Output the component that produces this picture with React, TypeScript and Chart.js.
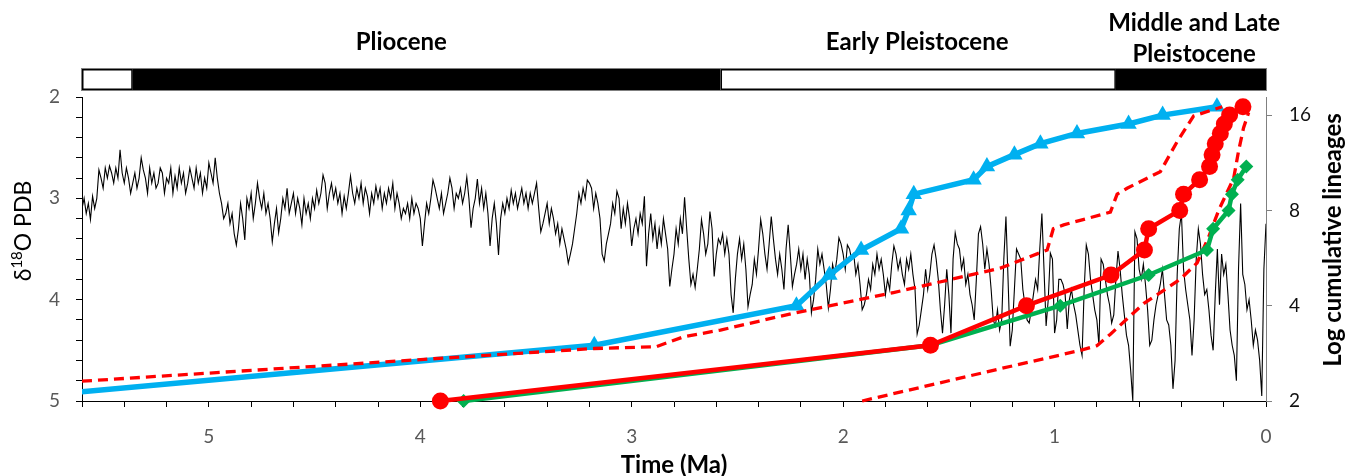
import React, { useEffect, useRef } from "react";
import { Chart, registerables } from "chart.js";

Chart.register(...registerables);

// ---------------- DATA ----------------
// Benthic δ18O stack (‰ PDB), sampled every 0.01 Ma starting at 0 Ma
const d18OStartMa = 0;
const d18OStepMa = 0.01;
const d18O: number[] = [
  // 0.00 - 0.99
  3.25, 3.70, 4.95, 4.60, 4.40, 4.30, 4.45, 4.20, 4.00, 4.10,
  3.85, 3.75, 3.05, 3.70, 4.80, 4.55, 4.45, 4.30, 3.95, 3.65,
  3.75, 3.55, 4.05, 3.50, 3.95, 4.50, 4.35, 4.10, 3.90, 3.95,
  3.75, 3.45, 3.30, 3.60, 4.20, 4.55, 4.20, 4.05, 3.90, 3.70,
  3.15, 3.30, 3.75, 4.60, 4.88, 4.45, 4.25, 4.20, 3.95, 3.70,
  3.85, 3.95, 4.05, 4.20, 4.40, 4.45, 4.10, 3.85, 3.65, 3.80,
  3.70, 3.40, 3.33, 5.00, 4.70, 4.45, 4.35, 4.15, 3.95, 3.70,
  3.52, 3.80, 4.15, 4.23, 4.05, 3.95, 3.80, 3.65, 3.60, 4.45,
  4.20, 4.10, 3.95, 3.80, 3.55, 3.46, 3.90, 4.55, 4.45, 4.30,
  4.15, 4.05, 3.90, 4.00, 4.29, 3.95, 3.85, 3.80, 3.80, 4.20,
  // 1.00 - 1.99
  4.33, 3.60, 3.54, 4.00, 4.26, 3.70, 3.15, 3.50, 3.90, 3.80,
  3.95, 4.10, 4.23, 4.20, 4.05, 3.90, 3.60, 3.55, 3.50, 3.90,
  4.30, 4.46, 3.80, 3.18, 3.60, 4.20, 4.30, 4.10, 4.26, 4.20,
  3.90, 3.65, 3.50, 3.70, 3.45, 3.28, 3.35, 3.80, 4.20, 4.05,
  3.95, 3.75, 3.85, 3.60, 3.70, 3.50, 3.45, 3.34, 3.60, 4.33,
  3.95, 3.70, 4.05, 4.33, 4.10, 3.80, 3.60, 3.46, 3.55, 3.75,
  3.90, 3.70, 3.95, 4.10, 4.25, 4.34, 3.90, 3.75, 3.55, 3.70,
  3.60, 3.85, 3.75, 3.60, 3.70, 3.55, 3.47, 3.65, 3.90, 3.80,
  3.95, 3.75, 3.60, 3.70, 3.55, 3.75, 3.65, 3.90, 3.80, 3.95,
  4.05, 4.10, 3.85, 3.65, 3.75, 3.55, 3.60, 3.50, 3.46, 3.70,
  // 2.00 - 2.99
  3.55, 3.45, 3.39, 3.60, 3.75, 3.65, 3.90, 4.08, 3.85, 3.70,
  3.55, 3.65, 3.50, 3.80, 4.00, 4.13, 3.75, 3.60, 3.80, 3.55,
  3.70, 3.50, 3.65, 3.75, 3.87, 3.55, 3.26, 3.50, 3.90, 3.70,
  3.55, 3.75, 3.60, 3.40, 3.18, 3.45, 3.70, 3.55, 3.35, 3.21,
  3.50, 3.75, 3.60, 3.85, 3.95, 4.07, 3.70, 3.45, 3.60, 3.40,
  3.55, 3.80, 4.13, 3.95, 3.55, 3.40, 3.55, 3.35, 3.45, 3.40,
  3.55, 3.77, 3.30, 3.13, 3.45, 3.55, 3.35, 3.21, 3.50, 3.70,
  3.88, 3.75, 3.85, 3.60, 3.30, 2.99, 3.35, 3.20, 3.45, 3.30,
  3.55, 3.70, 3.87, 3.50, 3.35, 3.20, 3.45, 3.30, 3.50, 3.25,
  3.40, 3.15, 3.35, 3.67, 2.98, 3.25, 3.15, 3.35, 3.20, 3.30,
  // 3.00 - 3.99
  3.47, 3.20, 3.05, 3.25, 3.10, 3.30, 3.00, 2.93, 3.15, 3.05,
  3.25, 3.35, 3.45, 3.62, 3.55, 3.20, 3.05, 2.95, 3.10, 2.90,
  2.85, 2.82, 3.00, 2.90, 3.05, 2.95, 3.15, 3.30, 3.45, 3.55,
  3.64, 3.50, 3.40, 3.30, 3.45, 3.25, 3.35, 3.20, 3.10, 3.25,
  3.05, 3.15, 3.25, 3.33, 3.10, 2.85, 2.95, 3.05, 2.95, 3.10,
  2.95, 3.05, 2.90, 3.00, 3.10, 2.95, 3.05, 2.92, 3.10, 3.00,
  3.15, 3.05, 3.20, 3.56, 3.25, 3.05, 3.20, 3.47, 3.15, 2.95,
  3.10, 2.90, 3.05, 2.81, 3.00, 3.10, 3.29, 3.00, 2.79, 2.95,
  3.05, 2.90, 3.00, 2.95, 3.10, 2.90, 2.80, 2.95, 3.05, 3.15,
  2.95, 3.10, 3.00, 2.90, 2.82, 3.00, 3.15, 3.05, 3.25, 3.47,
  // 4.00 - 4.99
  3.20, 3.10, 3.05, 3.15, 3.00, 3.20, 3.05, 3.15, 3.10, 3.20,
  3.05, 2.95, 3.10, 2.85, 3.00, 2.90, 3.05, 2.95, 3.10, 2.90,
  3.00, 2.88, 3.05, 2.95, 3.15, 2.98, 2.90, 3.05, 2.85, 3.00,
  2.90, 3.05, 2.95, 2.78, 2.95, 3.10, 2.98, 3.15, 2.95, 3.05,
  2.90, 3.00, 2.85, 2.95, 3.10, 2.85, 2.77, 2.95, 3.05, 2.92,
  3.10, 3.00, 3.20, 3.05, 3.15, 3.00, 3.26, 3.10, 3.00, 3.15,
  2.95, 3.05, 3.15, 2.90, 3.10, 3.00, 3.20, 3.34, 3.10, 3.25,
  3.43, 3.20, 3.05, 3.15, 2.95, 3.10, 3.00, 2.85, 3.05, 3.20,
  2.95, 3.10, 3.00, 3.41, 3.20, 3.05, 3.30, 3.46, 3.35, 3.15,
  3.25, 3.05, 3.15, 3.20, 3.05, 2.95, 2.80, 2.60, 2.85, 2.75,
  // 5.00 - 5.60
  2.65, 2.90, 2.80, 2.95, 2.75, 2.85, 2.70, 2.90, 2.80, 2.70,
  2.85, 2.95, 2.75, 2.85, 2.70, 2.90, 2.78, 2.95, 2.70, 2.85,
  2.80, 2.95, 2.75, 2.70, 2.85, 2.90, 2.75, 2.85, 2.70, 2.95,
  2.80, 2.72, 2.60, 2.80, 2.90, 2.75, 2.85, 2.95, 2.80, 2.70,
  2.85, 2.75, 2.52, 2.80, 2.70, 2.85, 2.75, 2.68, 2.80, 2.70,
  2.90, 2.80, 2.72, 3.00, 3.10, 2.98, 3.21, 3.05, 3.15, 3.00,
  3.10,
];

// Cumulative lineages through time (blue triangles)
const blueAges = [6.08, 3.177, 2.221, 2.065, 1.915, 1.726, 1.69, 1.666, 1.383, 1.32, 1.19, 1.067, 0.894, 0.65, 0.489, 0.232];
const blueLineages = [2, 3, 4, 5, 6, 7, 8, 9, 10, 11, 12, 13, 14, 15, 16, 17];

// Red circles
const redAges = [3.905, 1.587, 1.133, 0.733, 0.575, 0.555, 0.408, 0.39, 0.314, 0.267, 0.255, 0.24, 0.216, 0.197, 0.172, 0.109];
const redLineages = [2, 3, 4, 5, 6, 7, 8, 9, 10, 11, 12, 13, 14, 15, 16, 17];

// Green diamonds
const greenAges = [3.795, 1.587, 0.973, 0.555, 0.279, 0.25, 0.177, 0.161, 0.134, 0.093];
const greenLineages = [2, 3, 4, 5, 6, 7, 8, 9, 10, 11];

// Red dashed confidence bounds
const upperAges = [5.6, 3.177, 2.883, 2.755, 2.58, 2.241, 2.06, 1.762, 1.256, 1.035, 1.006, 0.957, 0.736, 0.704, 0.657, 0.5, 0.42, 0.342, 0.207];
const upperLineages = [2.31, 2.93, 2.97, 3.19, 3.35, 3.78, 4.0, 4.4, 5.26, 6.0, 7.0, 7.2, 7.9, 9.0, 9.4, 10.6, 13.2, 15.9, 17];
const lowerAges = [1.91, 1.256, 0.878, 0.8, 0.736, 0.579, 0.405, 0.326, 0.271, 0.224, 0.153, 0.13, 0.106, 0.082];
const lowerLineages = [2, 2.53, 2.89, 2.99, 3.25, 4.06, 4.85, 5.46, 6.6, 8.0, 10.1, 12.3, 14.6, 16.3];

// Epoch bar (Ma boundaries) and labels
const epochBounds = [5.6, 5.36, 2.58, 0.71, 0];
const epochFills = ["#ffffff", "#000000", "#ffffff", "#000000"];
const epochLabels = [["Pliocene"], ["Early Pleistocene"], ["Middle and Late", "Pleistocene"]];
const epochLabelAges = [4.09, 1.65, 0.34];

// Axis ticks
const lineageTicks = [2, 4, 8, 16];

// ---------------- STYLE ----------------
const FONT = "Lato, 'Open Sans', sans-serif";
const W = 1348;
const H = 476;

const pts = (xs: number[], ys: number[]) => xs.map((x, i) => ({ x, y: ys[i] }));

const intLabel = (v: number | string) => {
  const n = Number(v);
  return Math.abs(n - Math.round(n)) < 1e-6 ? String(Math.round(n)) : "";
};

const decorPlugin = {
  id: "decor",
  afterDraw(chart: any) {
    const { ctx, scales } = chart;
    const xs = scales.x;
    ctx.save();
    // epoch bar
    const barTop = 69;
    const barH = 21;
    for (let i = 0; i < epochFills.length; i++) {
      const x1 = xs.getPixelForValue(epochBounds[i]);
      const x2 = xs.getPixelForValue(epochBounds[i + 1]);
      ctx.fillStyle = epochFills[i];
      ctx.fillRect(x1, barTop, x2 - x1, barH);
      ctx.strokeStyle = "#000";
      ctx.lineWidth = 1.5;
      ctx.strokeRect(x1 + 0.75, barTop + 0.75, x2 - x1 - 1.5, barH - 1.5);
    }
    const bx1 = xs.getPixelForValue(epochBounds[0]);
    const bx2 = xs.getPixelForValue(epochBounds[epochBounds.length - 1]);
    ctx.strokeStyle = "#7f7f7f";
    ctx.lineWidth = 1;
    ctx.strokeRect(bx1 - 0.5, barTop - 0.5, bx2 - bx1 + 1, barH + 1);

    // epoch labels
    ctx.fillStyle = "#000";
    ctx.font = `bold 24px ${FONT}`;
    ctx.textAlign = "center";
    ctx.textBaseline = "alphabetic";
    const baselines = [[50], [50], [31, 62]];
    epochLabels.forEach((lines, i) => {
      const cx = xs.getPixelForValue(epochLabelAges[i]);
      lines.forEach((t, j) => ctx.fillText(t, cx, baselines[i][j]));
    });

    // x title
    ctx.textBaseline = "middle";
    ctx.fillText("Time (Ma)", (chart.chartArea.left + chart.chartArea.right) / 2, 465);

    // right title
    ctx.save();
    ctx.translate(1333, 240);
    ctx.rotate(-Math.PI / 2);
    ctx.fillText("Log cumulative lineages", 0, 0);
    ctx.restore();

    // left title with superscript
    ctx.save();
    ctx.translate(24, 231);
    ctx.rotate(-Math.PI / 2);
    ctx.textAlign = "left";
    ctx.textBaseline = "middle";
    ctx.fillStyle = "#000";
    const big = `23px ${FONT}`;
    const small = `15px ${FONT}`;
    ctx.font = big;
    const w1 = ctx.measureText("δ").width;
    const w3 = ctx.measureText("O PDB").width;
    ctx.font = small;
    const w2 = ctx.measureText("18").width;
    let x0 = -(w1 + w2 + w3) / 2;
    ctx.font = big;
    ctx.fillText("δ", x0, 0);
    x0 += w1;
    ctx.font = small;
    ctx.fillText("18", x0, -7);
    x0 += w2;
    ctx.font = big;
    ctx.fillText("O PDB", x0, 0);
    ctx.restore();

    ctx.restore();
  },
};

export default function App() {
  const ref = useRef<HTMLCanvasElement>(null);

  useEffect(() => {
    const canvas = ref.current;
    if (!canvas) return;
    const chart = new Chart(canvas, {
      type: "line",
      data: {
        datasets: [
          {
            label: "Red",
            data: pts(redAges, redLineages),
            yAxisID: "y2",
            borderColor: "#ff0000",
            backgroundColor: "#ff0000",
            borderWidth: 4.5,
            pointStyle: "circle",
            pointRadius: 8.5,
            pointBackgroundColor: "#ff0000",
            pointBorderColor: "#ff0000",
            pointBorderWidth: 0,
            tension: 0,
            clip: false,
          },
          {
            label: "Green",
            data: pts(greenAges, greenLineages),
            yAxisID: "y2",
            borderColor: "#00b050",
            backgroundColor: "#00b050",
            borderWidth: 4.5,
            pointStyle: "rectRot",
            pointRadius: 7,
            pointBackgroundColor: "#00b050",
            pointBorderColor: "#00b050",
            pointBorderWidth: 0,
            tension: 0,
            clip: false,
          },
          {
            label: "Upper",
            data: pts(upperAges, upperLineages),
            yAxisID: "y2",
            borderColor: "#ff0000",
            borderWidth: 3.3,
            borderDash: [10, 6],
            pointRadius: 0,
            tension: 0,
            clip: { left: 0, top: 10, right: 10, bottom: 10 },
          },
          {
            label: "Lower",
            data: pts(lowerAges, lowerLineages),
            yAxisID: "y2",
            borderColor: "#ff0000",
            borderWidth: 3.3,
            borderDash: [10, 6],
            pointRadius: 0,
            tension: 0,
            clip: { left: 0, top: 10, right: 10, bottom: 10 },
          },
          {
            label: "Blue",
            data: pts(blueAges, blueLineages),
            yAxisID: "y2",
            borderColor: "#00b0f0",
            backgroundColor: "#00b0f0",
            borderWidth: 5.5,
            pointStyle: "triangle",
            pointRadius: 9.5,
            pointBackgroundColor: "#00b0f0",
            pointBorderColor: "#00b0f0",
            pointBorderWidth: 0,
            tension: 0,
            clip: { left: 0, top: 12, right: 12, bottom: 12 },
          },
          {
            label: "d18O",
            data: d18O.map((v, i) => ({ x: d18OStartMa + i * d18OStepMa, y: v })),
            yAxisID: "y",
            borderColor: "#000000",
            borderWidth: 1.1,
            pointRadius: 0,
            tension: 0,
          },
        ],
      },
      options: {
        responsive: false,
        animation: false,
        devicePixelRatio: 1,
        events: [],
        layout: { padding: { top: 97, left: 0, right: 0, bottom: 0 } },
        plugins: { legend: { display: false }, tooltip: { enabled: false }, title: { display: false } },
        scales: {
          x: {
            type: "linear",
            min: 0,
            max: 5.6,
            reverse: true,
            position: "bottom",
            afterFit: (s: any) => {
              s.height = 75;
            },
            ticks: {
              stepSize: 0.2,
              autoSkip: false,
              maxRotation: 0,
              color: "#595959",
              font: { family: FONT, size: 19 },
              padding: 18,
              callback: (v: any) => intLabel(v),
            },
            grid: { display: true, drawOnChartArea: false, drawTicks: true, tickLength: 6, color: "#000", lineWidth: 1 },
            border: { display: true, color: "#000", width: 1 },
          },
          y: {
            type: "linear",
            min: 2,
            max: 5,
            reverse: true,
            position: "left",
            afterFit: (s: any) => {
              s.width = 82;
            },
            ticks: {
              stepSize: 0.2,
              autoSkip: false,
              color: "#595959",
              font: { family: FONT, size: 19 },
              padding: 16,
              callback: (v: any) => intLabel(v),
            },
            grid: { display: true, drawOnChartArea: false, drawTicks: true, tickLength: 6, color: "#000", lineWidth: 1 },
            border: { display: true, color: "#000", width: 1 },
          },
          y2: {
            type: "logarithmic",
            min: 2,
            max: 18.25,
            position: "right",
            afterFit: (s: any) => {
              s.width = 82;
            },
            afterBuildTicks: (s: any) => {
              s.ticks = lineageTicks.map((v) => ({ value: v }));
            },
            ticks: {
              autoSkip: false,
              color: "#111111",
              font: { family: FONT, size: 19 },
              padding: 17,
              callback: (v: any) => String(v),
            },
            grid: { display: true, drawOnChartArea: false, drawTicks: true, tickLength: 6, color: "#808080", lineWidth: 1 },
            border: { display: true, color: "#808080", width: 1 },
          },
        },
      },
      plugins: [decorPlugin],
    } as any);
    return () => chart.destroy();
  }, []);

  return (
    <div style={{ position: "absolute", left: 0, top: 0, width: W, height: H, background: "#ffffff" }}>
      <canvas ref={ref} width={W} height={H} style={{ display: "block", width: W, height: H }} />
    </div>
  );
}
